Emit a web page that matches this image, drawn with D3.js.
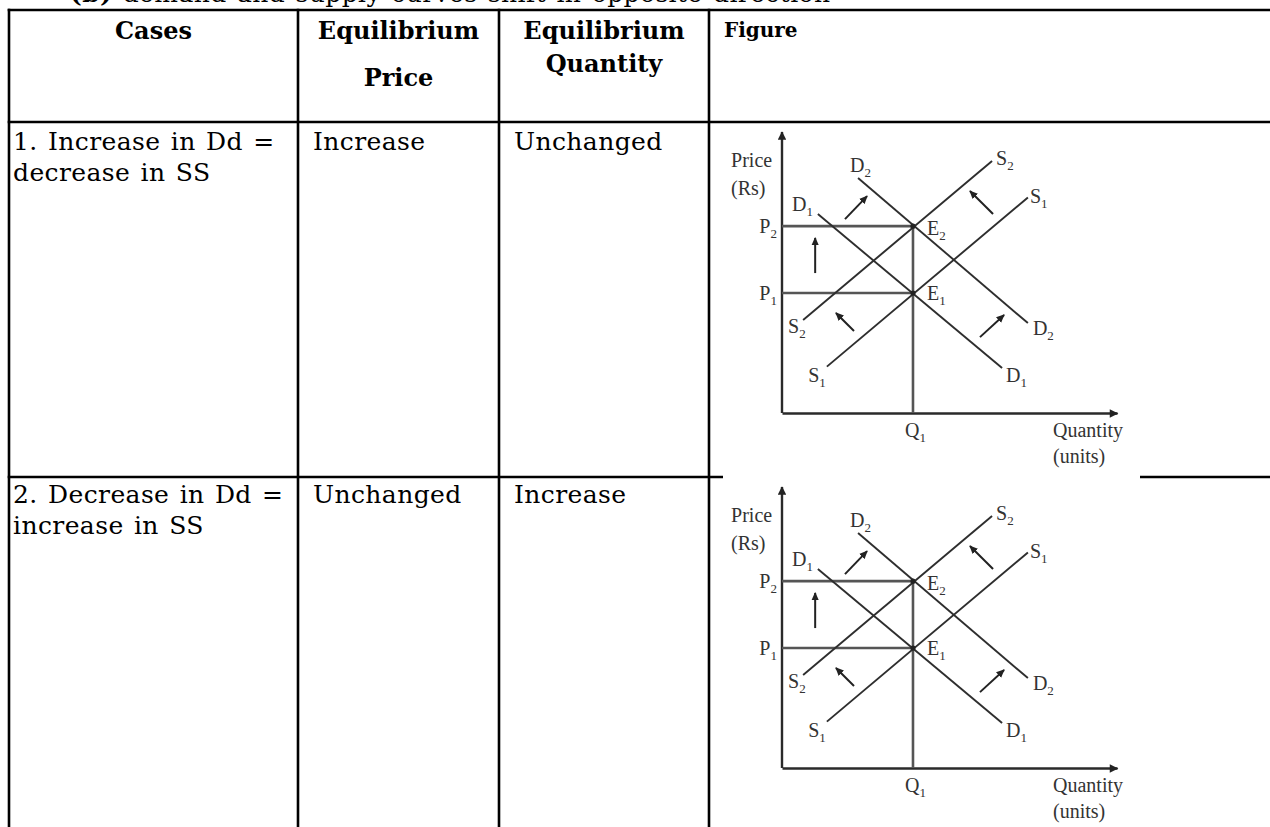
<!DOCTYPE html>
<html>
<head>
<meta charset="utf-8">
<script src="https://cdn.jsdelivr.net/npm/d3@7"></script>
<style>
  html, body { margin: 0; padding: 0; background: #fff; }
  svg { display: block; }
</style>
</head>
<body>
<svg id="chart" width="1270" height="827"></svg>
<script>
// ---------- table content ----------
const titleText = ["(b)", " demand and supply curves shift in opposite direction"];
const headers = [["Cases"], ["Equilibrium", "", "Price"], ["Equilibrium", "Quantity"], ["Figure"]];
const caseLines = [["1. Increase in Dd =", "decrease in SS"], ["2. Decrease in Dd =", "increase in SS"]];
const eqPrice = ["Increase", "Unchanged"];
const eqQuantity = ["Unchanged", "Increase"];

// ---------- figure content (data units 0..100 on both axes) ----------
const Q1 = 39.1;
const priceLevels = [{ name: "P", sub: "1", v: 42.7 }, { name: "P", sub: "2", v: 66.5 }];
const curves = [
  { name: "D1", x1: 10.7, y1: 70.8, x2: 65.7, y2: 16.0 },
  { name: "D2", x1: 22.7, y1: 83.6, x2: 73.4, y2: 32.0 },
  { name: "S1", x1: 13.4, y1: 16.5, x2: 73.4, y2: 76.7 },
  { name: "S2", x1: 6.3, y1: 33.1, x2: 62.7, y2: 89.7 }
];
const shiftArrows = [
  [18.8, 69.0, 25.4, 77.2],
  [63.0, 70.8, 56.1, 79.0],
  [9.9, 49.8, 9.9, 62.3],
  [21.5, 29.2, 16.1, 35.6],
  [59.1, 27.0, 66.3, 34.9]
];
const labels = [
  { t: "Price", s: "", x: -15.2, y: 87.5, a: "start" },
  { t: "(Rs)", s: "", x: -15.2, y: 77.6, a: "start" },
  { t: "P", s: "2", x: -1.5, y: 64.1, a: "end" },
  { t: "P", s: "1", x: -1.5, y: 40.2, a: "end" },
  { t: "D", s: "2", x: 20.3, y: 85.8, a: "start" },
  { t: "D", s: "1", x: 3.0, y: 71.9, a: "start" },
  { t: "S", s: "2", x: 63.9, y: 88.3, a: "start" },
  { t: "S", s: "1", x: 74.0, y: 74.7, a: "start" },
  { t: "E", s: "2", x: 43.3, y: 63.3, a: "start" },
  { t: "E", s: "1", x: 43.3, y: 40.2, a: "start" },
  { t: "S", s: "2", x: 1.8, y: 28.5, a: "start" },
  { t: "S", s: "1", x: 7.8, y: 11.0, a: "start" },
  { t: "D", s: "2", x: 74.9, y: 27.8, a: "start" },
  { t: "D", s: "1", x: 66.9, y: 11.0, a: "start" },
  { t: "Q", s: "1", x: 36.7, y: -8.5, a: "start" },
  { t: "Quantity", s: "", x: 80.9, y: -8.5, a: "start" },
  { t: "(units)", s: "", x: 80.9, y: -17.8, a: "start" }
];

// ---------- drawing ----------
const svg = d3.select("#chart");
const serif = "'DejaVu Serif', serif";
const figFont = "'Liberation Serif', 'Times New Roman', serif";

svg.append("rect").attr("width", 1270).attr("height", 827).attr("fill", "#fff");

// title (cut at top, as in the reference)
const title = svg.append("text").attr("x", 70).attr("y", 2)
  .attr("font-family", serif).attr("font-size", 25).attr("letter-spacing", 0.4).attr("word-spacing", 2)
  .attr("fill", "#000");
title.append("tspan").attr("font-weight", "bold").text(titleText[0]);
title.append("tspan").text(titleText[1]);

// table grid
const colX = [9, 298, 499, 709];
const rowY = [10, 122, 477];
const grid = svg.append("g").attr("stroke", "#000").attr("stroke-width", 2.6);
rowY.forEach(yv => grid.append("line").attr("x1", colX[0] - 1.3).attr("x2", 1270).attr("y1", yv).attr("y2", yv));
colX.forEach(x => grid.append("line").attr("x1", x).attr("x2", x).attr("y1", rowY[0] - 1.3).attr("y2", 827));

// header
const colCenters = [(colX[0] + colX[1]) / 2, (colX[1] + colX[2]) / 2, (colX[2] + colX[3]) / 2];
const hdrG = svg.append("g").attr("font-family", serif).attr("font-weight", "bold").attr("fill", "#000");
hdrG.append("text").attr("x", colCenters[0]).attr("y", 39).attr("text-anchor", "middle").attr("font-size", 24).text(headers[0][0]);
hdrG.append("text").attr("x", colCenters[1]).attr("y", 39).attr("text-anchor", "middle").attr("font-size", 24).text(headers[1][0]);
hdrG.append("text").attr("x", colCenters[1]).attr("y", 86).attr("text-anchor", "middle").attr("font-size", 24).text(headers[1][2]);
hdrG.append("text").attr("x", colCenters[2]).attr("y", 39).attr("text-anchor", "middle").attr("font-size", 24).text(headers[2][0]);
hdrG.append("text").attr("x", colCenters[2]).attr("y", 72).attr("text-anchor", "middle").attr("font-size", 24).text(headers[2][1]);
hdrG.append("text").attr("x", 724).attr("y", 37).attr("font-size", 20).text(headers[3][0]);

// body rows
const bodyG = svg.append("g").attr("font-family", serif).attr("font-size", 25)
  .attr("letter-spacing", 0.4).attr("word-spacing", 2).attr("fill", "#000");
const rowBase = [150, 503];
caseLines.forEach((lines, i) => {
  lines.forEach((ln, j) => bodyG.append("text").attr("x", 13).attr("y", rowBase[i] + j * 31).text(ln));
  bodyG.append("text").attr("x", 313).attr("y", rowBase[i]).text(eqPrice[i]);
  bodyG.append("text").attr("x", 514).attr("y", rowBase[i]).text(eqQuantity[i]);
});

// arrow markers
const defs = svg.append("defs");
defs.append("marker").attr("id", "head").attr("viewBox", "0 0 10 10")
  .attr("refX", 9).attr("refY", 5).attr("markerWidth", 4.2).attr("markerHeight", 4.2)
  .attr("markerUnits", "strokeWidth").attr("orient", "auto")
  .append("path").attr("d", "M0,0.5 L10,5 L0,9.5 Z").attr("fill", "#222");
defs.append("marker").attr("id", "axhead").attr("viewBox", "0 0 10 10")
  .attr("refX", 9).attr("refY", 5).attr("markerWidth", 5).attr("markerHeight", 3.6)
  .attr("markerUnits", "strokeWidth").attr("orient", "auto")
  .append("path").attr("d", "M0,0 L10,5 L0,10 Z").attr("fill", "#222");

function drawFigure(dy, withCover) {
  const g = svg.append("g");
  if (withCover) {
    g.append("rect").attr("x", 723).attr("y", 470).attr("width", 417).attr("height", 360).attr("fill", "#fff");
  }
  const x = d3.scaleLinear().domain([0, 100]).range([782, 1117]);
  const y = d3.scaleLinear().domain([0, 100]).range([413 + dy, 132 + dy]);

  // axes (no ticks), domain lines with arrowheads
  const xAxis = g.append("g").attr("transform", `translate(0,${y(0)})`)
    .call(d3.axisBottom(x).tickValues([]).tickSizeOuter(0));
  xAxis.select(".domain").attr("stroke", "#2a2a2a").attr("stroke-width", 2.4).attr("marker-end", "url(#axhead)");
  const yAxis = g.append("g").attr("transform", `translate(${x(0)},0)`)
    .call(d3.axisLeft(y).tickValues([]).tickSizeOuter(0));
  yAxis.select(".domain").attr("stroke", "#2a2a2a").attr("stroke-width", 2.4)
    .attr("d", `M0,${y(0)}V${y(100)}`).attr("marker-end", "url(#axhead)");

  // price level lines and Q1 line
  g.selectAll(".plev").data(priceLevels).join("line")
    .attr("x1", x(0)).attr("x2", x(Q1)).attr("y1", d => y(d.v)).attr("y2", d => y(d.v))
    .attr("stroke", "#555").attr("stroke-width", 2.6);
  g.append("line").attr("x1", x(Q1)).attr("x2", x(Q1)).attr("y1", y(0)).attr("y2", y(priceLevels[1].v))
    .attr("stroke", "#555").attr("stroke-width", 2.6);

  // curves
  g.selectAll(".curve").data(curves).join("line")
    .attr("x1", d => x(d.x1)).attr("y1", d => y(d.y1)).attr("x2", d => x(d.x2)).attr("y2", d => y(d.y2))
    .attr("stroke", "#2e2e2e").attr("stroke-width", 1.9);

  // equilibrium points
  g.selectAll(".eq").data(priceLevels).join("circle")
    .attr("cx", x(Q1)).attr("cy", d => y(d.v)).attr("r", 2.6).attr("fill", "#222");

  // shift arrows
  g.selectAll(".sh").data(shiftArrows).join("line")
    .attr("x1", d => x(d[0])).attr("y1", d => y(d[1])).attr("x2", d => x(d[2])).attr("y2", d => y(d[3]))
    .attr("stroke", "#222").attr("stroke-width", 2).attr("marker-end", "url(#head)");

  // labels
  const lt = g.selectAll(".lab").data(labels).join("text")
    .attr("x", d => x(d.x)).attr("y", d => y(d.y)).attr("text-anchor", d => d.a)
    .attr("font-family", figFont).attr("font-size", 20).attr("fill", "#333");
  lt.append("tspan").text(d => d.t);
  lt.filter(d => d.s).append("tspan").attr("font-size", 13).attr("dy", 5).text(d => d.s);
}
drawFigure(0, false);
drawFigure(355, true);
</script>
</body>
</html>
